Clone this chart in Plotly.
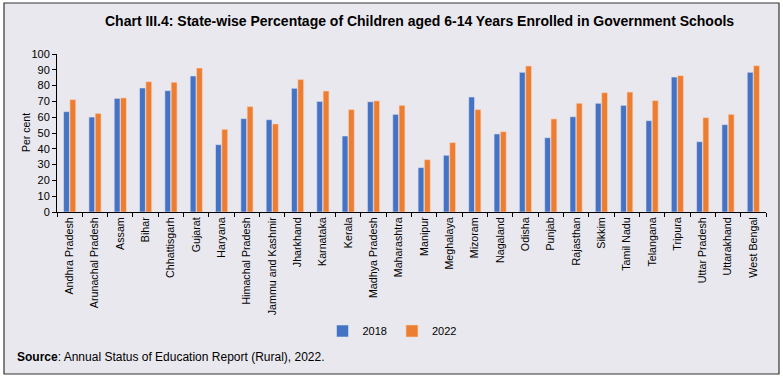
import plotly.graph_objects as go

states = ["Andhra Pradesh", "Arunachal Pradesh", "Assam", "Bihar", "Chhattisgarh", "Gujarat",
          "Haryana", "Himachal Pradesh", "Jammu and Kashmir", "Jharkhand", "Karnataka", "Kerala",
          "Madhya Pradesh", "Maharashtra", "Manipur", "Meghalaya", "Mizoram", "Nagaland", "Odisha",
          "Punjab", "Rajasthan", "Sikkim", "Tamil Nadu", "Telangana", "Tripura", "Uttar Pradesh",
          "Uttarakhand", "West Bengal"]
y2018 = [63.5, 60.1, 71.9, 78.5, 76.8, 86.1, 42.6, 59.1, 58.4, 78.3, 70.0, 48.1, 69.8, 61.8,
         28.1, 35.9, 72.8, 49.4, 88.4, 47.0, 60.3, 68.8, 67.5, 57.8, 85.4, 44.5, 55.3, 88.4]
y2022 = [71.1, 62.4, 72.2, 82.5, 82.1, 91.1, 52.3, 66.7, 55.7, 83.8, 76.6, 64.8, 70.3, 67.5,
         33.1, 43.9, 64.8, 50.8, 92.4, 58.9, 68.8, 75.5, 75.9, 70.5, 86.3, 59.7, 61.8, 92.6]
yticks = list(range(0, 101, 10))

W, H = 783, 378
L, R, T, B = 57, 17, 54, 166
pw, ph = W - L - R, H - T - B

def px(x):
    return (x - L) / pw

def py(y):
    return (H - B - y) / ph

fig = go.Figure()
fig.add_trace(go.Bar(x=states, y=y2018, name="2018", marker=dict(color="#4472C4", line=dict(color="#DDE3F2", width=0.6))))
fig.add_trace(go.Bar(x=states, y=y2022, name="2022", marker=dict(color="#ED7D31", line=dict(color="#F6D5C0", width=0.6))))

font = "Liberation Sans, Arial, sans-serif"
fig.update_layout(
    width=W, height=H,
    margin=dict(l=L, r=R, t=T, b=B, autoexpand=False),
    paper_bgcolor="white",
    plot_bgcolor="rgba(0,0,0,0)",
    barmode="group", bargap=0.5, bargroupgap=0.08,
    font=dict(family=font, size=11, color="black"),
    showlegend=True,
    legend=dict(orientation="h", x=px(392), xanchor="center", y=py(331), yanchor="middle",
                font=dict(size=11), bgcolor="rgba(0,0,0,0)", itemwidth=30, tracegroupgap=0),
    xaxis=dict(showline=True, linecolor="black", linewidth=1, ticks="outside", tickson="boundaries",
               ticklen=4, tickcolor="black", tickangle=-90, showgrid=False,
               tickfont=dict(size=10.7)),
    yaxis=dict(range=[0, 100], tickvals=yticks, showline=True, linecolor="black", linewidth=1,
               ticks="outside", ticklen=4, tickcolor="black", showgrid=False, zeroline=False,
               tickfont=dict(size=11)),
    shapes=[dict(type="rect", xref="paper", yref="paper", x0=px(4), x1=px(779), y0=py(374), y1=py(3),
                 fillcolor="#E9E8EE", line=dict(color="#333333", width=1.2), layer="below")],
    annotations=[
        dict(text="<b>Chart III.4: State-wise Percentage of Children aged 6-14 Years Enrolled in Government Schools</b>",
             xref="paper", yref="paper", x=px(419), y=py(21), xanchor="center", yanchor="middle",
             showarrow=False, font=dict(size=14, family=font)),
        dict(text="Per cent", textangle=-90,
             xref="paper", yref="paper", x=px(26), y=py(133), xanchor="center", yanchor="middle",
             showarrow=False, font=dict(size=10.5, family=font)),
        dict(text="<b>Source</b>: Annual Status of Education Report (Rural), 2022.",
             xref="paper", yref="paper", x=px(15), y=py(357), xanchor="left", yanchor="middle",
             showarrow=False, font=dict(size=12, family=font)),
    ],
)

fig.write_html("out.html", config={"displayModeBar": False},
               post_script="document.body.style.margin='0';")
